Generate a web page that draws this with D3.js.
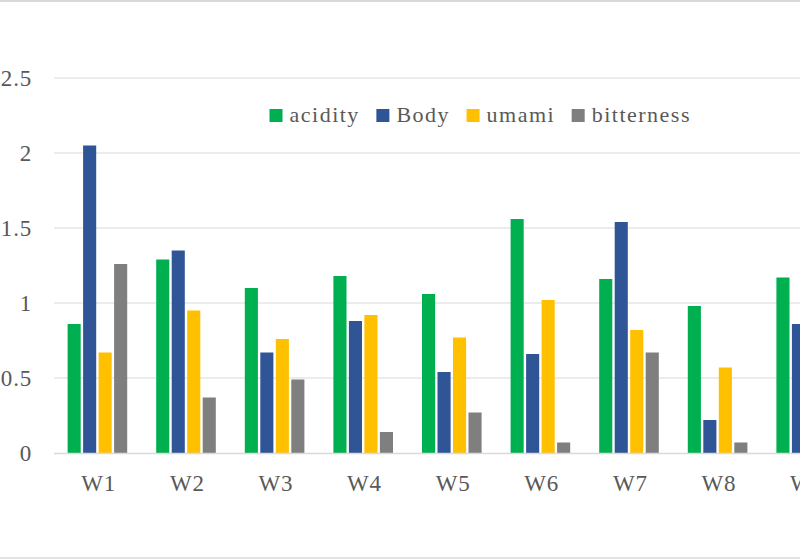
<!DOCTYPE html>
<html>
<head>
<meta charset="utf-8">
<script src="https://cdn.jsdelivr.net/npm/d3@7"></script>
<style>
  body { margin: 0; background: #fff; }
  svg text { font-family: "Liberation Serif", "DejaVu Serif", serif; fill: #595959; }
</style>
</head>
<body>
<div id="chart"></div>
<script>
// chart data
var weeks = ["W1", "W2", "W3", "W4", "W5", "W6", "W7", "W8", "W9"];
var seriesNames = ["acidity", "Body", "umami", "bitterness"];
var seriesColors = ["#00b050", "#2f5597", "#ffc000", "#7f7f7f"];
var acidity    = [0.86, 1.29, 1.10, 1.18, 1.06, 1.56, 1.16, 0.98, 1.17];
var body       = [2.05, 1.35, 0.67, 0.88, 0.54, 0.66, 1.54, 0.22, 0.86];
var umami      = [0.67, 0.95, 0.76, 0.92, 0.77, 1.02, 0.82, 0.57, 0.80];
var bitterness = [1.26, 0.37, 0.49, 0.14, 0.27, 0.07, 0.67, 0.07, 0.30];
var yTicks = [0, 0.5, 1, 1.5, 2, 2.5];

var seriesValues = [acidity, body, umami, bitterness];

var width = 800, height = 560;
var svg = d3.select("#chart").append("svg")
    .attr("width", width)
    .attr("height", height);

// chart area border (top / bottom visible)
svg.append("line").attr("x1", 0).attr("x2", width).attr("y1", 1).attr("y2", 1)
    .attr("stroke", "#d9d9d9").attr("stroke-width", 2);
svg.append("line").attr("x1", 0).attr("x2", width).attr("y1", 558).attr("y2", 558)
    .attr("stroke", "#d9d9d9").attr("stroke-width", 1.5);

var step = 88.6;
var xScale = d3.scaleBand().domain(weeks).range([54, 54 + step * weeks.length]).padding(0);
var yScale = d3.scaleLinear().domain([0, 2.5]).range([453, 78]);

var groupW = 62;
var inner = d3.scaleBand().domain(seriesNames).range([0, groupW]).padding(0);

// gridlines
svg.append("g").selectAll("line")
    .data(yTicks.filter(function(d){ return d > 0; }))
    .enter().append("line")
    .attr("x1", 54).attr("x2", width)
    .attr("y1", function(d){ return yScale(d); })
    .attr("y2", function(d){ return yScale(d); })
    .attr("stroke", "#d9d9d9").attr("stroke-width", 1);

// y labels
svg.append("g").selectAll("text")
    .data(yTicks)
    .enter().append("text")
    .attr("x", 32)
    .attr("y", function(d){ return yScale(d); })
    .attr("dy", "0.35em")
    .attr("text-anchor", "end")
    .attr("font-size", "23px")
    .style("letter-spacing", "0.8px")
    .text(function(d){ return d; });

// bars
var rows = [];
weeks.forEach(function(w, i){
    seriesNames.forEach(function(s, j){
        rows.push({week: w, series: s, color: seriesColors[j], value: seriesValues[j][i]});
    });
});

svg.append("g").selectAll("rect")
    .data(rows)
    .enter().append("rect")
    .attr("x", function(d){ return xScale(d.week) + (step - groupW) / 2 + inner(d.series) + 0.3; })
    .attr("y", function(d){ return yScale(d.value); })
    .attr("width", inner.bandwidth() - 2.4)
    .attr("height", function(d){ return yScale(0) - yScale(d.value); })
    .attr("fill", function(d){ return d.color; });

// x axis line
svg.append("line").attr("x1", 54).attr("x2", width)
    .attr("y1", 453.5).attr("y2", 453.5)
    .attr("stroke", "#d9d9d9").attr("stroke-width", 1.5);

// x labels
svg.append("g").selectAll("text")
    .data(weeks)
    .enter().append("text")
    .attr("x", function(d){ return xScale(d) + step / 2 + 0.4; })
    .attr("y", 491)
    .attr("text-anchor", "middle")
    .attr("font-size", "23px")
    .style("letter-spacing", "0.8px")
    .text(function(d){ return d; });

// legend
var legend = svg.append("g");
var lx = 269.5;
seriesNames.forEach(function(s, j){
    legend.append("rect")
        .attr("x", lx).attr("y", 109)
        .attr("width", 13).attr("height", 13)
        .attr("fill", seriesColors[j]);
    var t = legend.append("text")
        .attr("x", lx + 20).attr("y", 122)
        .attr("font-size", "22px")
        .style("letter-spacing", "1.5px")
        .text(s);
    lx += 20 + t.node().getComputedTextLength() + 16.5;
});
</script>
</body>
</html>
